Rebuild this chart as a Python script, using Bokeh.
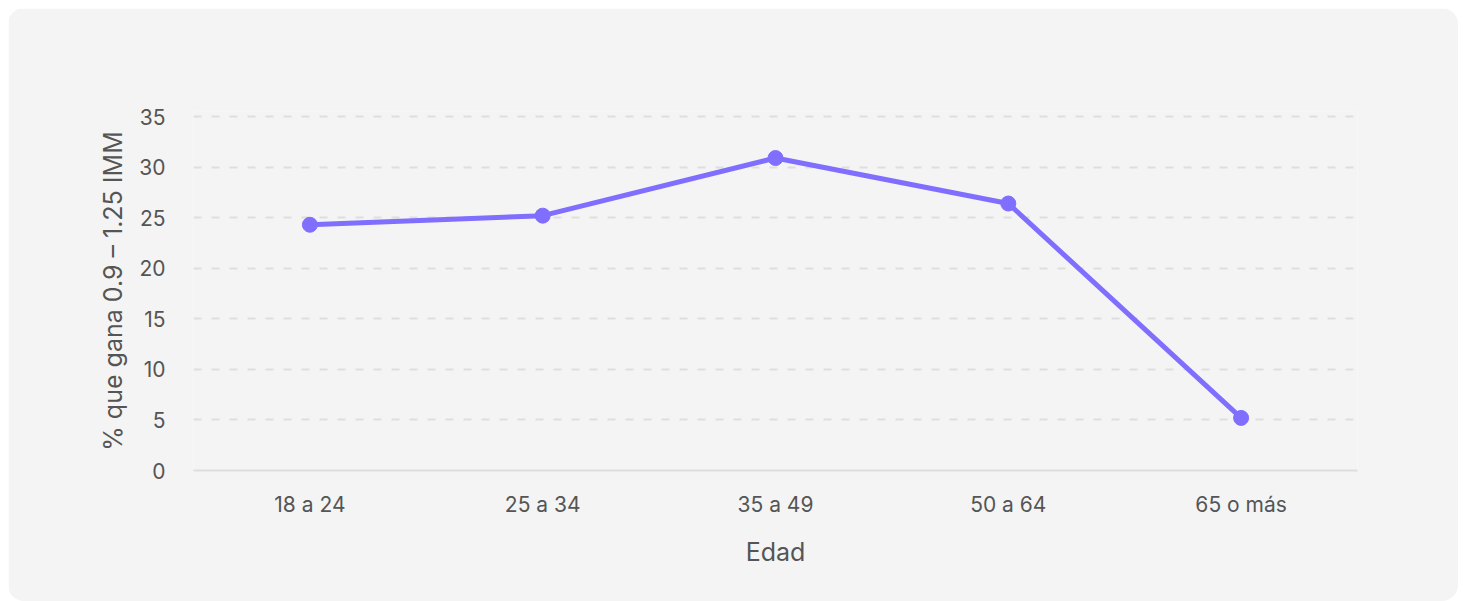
from bokeh.plotting import figure
from bokeh.embed import file_html
from bokeh.resources import INLINE
from bokeh.models import SingleIntervalTicker, Range1d

categories = ["18 a 24", "25 a 34", "35 a 49", "50 a 64", "65 o más"]
values = [24.3, 25.2, 30.9, 26.4, 5.2]

FONT = "Inter"
BG = "#f4f4f4"
LINE = "#806eff"

p = figure(x_range=categories, y_range=Range1d(0, 35.5), width=1450, height=593,
           output_backend="svg", toolbar_location=None,
           min_border_left=185, min_border_right=101, min_border_top=103, min_border_bottom=131)
p.background_fill_color = BG
p.border_fill_color = BG
p.outline_line_color = None
p.styles = {"border-radius": "16px", "overflow": "hidden", "margin-left": "8px", "margin-top": "8px"}

p.line(categories, values, line_color=LINE, line_width=5)
p.scatter(categories, values, size=15, fill_color=LINE, line_color=LINE)

p.yaxis.ticker = SingleIntervalTicker(interval=5)
p.yaxis.axis_line_color = None
p.yaxis.major_tick_line_color = None
p.yaxis.minor_tick_line_color = None
p.yaxis.major_label_standoff = 22
p.yaxis.axis_label = "% que gana 0.9 – 1.25 IMM"
p.yaxis.axis_label_standoff = 8

p.xaxis.axis_line_color = "#dddddd"
p.xaxis.axis_line_width = 2
p.xaxis.major_tick_line_color = None
p.xaxis.minor_tick_line_color = None
p.xaxis.major_label_standoff = 15
p.xaxis.axis_label = "Edad"
p.xaxis.axis_label_standoff = 17

for ax in (p.xaxis, p.yaxis):
    ax.major_label_text_font = FONT
    ax.major_label_text_font_size = "21px"
    ax.major_label_text_color = "#555555"
    ax.axis_label_text_font = FONT
    ax.axis_label_text_font_size = "25px"
    ax.axis_label_text_font_style = "normal"
    ax.axis_label_text_color = "#555555"

p.xgrid.grid_line_color = None
p.ygrid.grid_line_color = "#dedede"
p.ygrid.grid_line_width = 2
p.ygrid.grid_line_dash = "8 10"

open("out.html", "w").write(file_html(p, INLINE))
